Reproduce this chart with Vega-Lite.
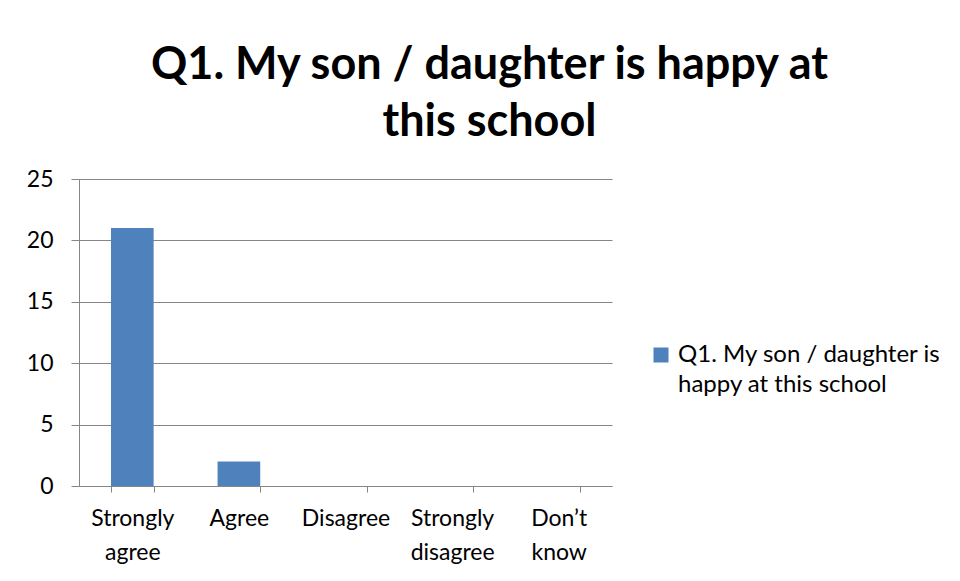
{
  "$schema": "https://vega.github.io/schema/vega-lite/v6.json",
  "autosize": {"type": "none"},
  "width": 533,
  "height": 307,
  "padding": {"left": 79, "top": 179, "right": 348, "bottom": 95},
  "background": "white",
  "config": {
    "view": {"stroke": null},
    "font": "Lato",
    "style": {"guide-label": {"lineHeight": 30}}
  },
  "title": {
    "text": ["Q1. My son / daughter is happy at", "this school"],
    "font": "Lato",
    "fontSize": 45,
    "fontWeight": "bold",
    "color": "#000000",
    "anchor": "middle",
    "frame": "group",
    "dx": 144,
    "lineHeight": 57,
    "offset": 23
  },
  "data": {
    "values": [
      {"response": "Strongly agree", "count": 21, "series": "Q1. My son / daughter is happy at this school"},
      {"response": "Agree", "count": 2, "series": "Q1. My son / daughter is happy at this school"},
      {"response": "Disagree", "count": 0, "series": "Q1. My son / daughter is happy at this school"},
      {"response": "Strongly disagree", "count": 0, "series": "Q1. My son / daughter is happy at this school"},
      {"response": "Don’t know", "count": 0, "series": "Q1. My son / daughter is happy at this school"}
    ]
  },
  "mark": {"type": "bar"},
  "encoding": {
    "x": {
      "field": "response",
      "type": "nominal",
      "sort": null,
      "scale": {"paddingInner": 0.6, "paddingOuter": 0.3},
      "axis": {
        "title": null,
        "labelAngle": 0,
        "labelExpr": "split(datum.label, ' ')",
        "labelFont": "Lato",
        "labelFontSize": 23,
        "labelColor": "#000000",
        "labelLineHeight": 34,
        "labelPadding": 15,
        "tickBand": "extent",
        "tickSize": 6,
        "tickColor": "#868686",
        "domainColor": "#868686",
        "labelLimit": 200
      }
    },
    "y": {
      "field": "count",
      "type": "quantitative",
      "scale": {"domain": [0, 25], "nice": false},
      "axis": {
        "title": null,
        "values": [0, 5, 10, 15, 20, 25],
        "labelFont": "Lato",
        "labelFontSize": 23,
        "labelColor": "#000000",
        "labelPadding": 18,
        "tickSize": 8,
        "tickColor": "#868686",
        "domainColor": "#868686",
        "gridColor": "#868686",
        "grid": true
      }
    },
    "color": {
      "field": "series",
      "type": "nominal",
      "scale": {"range": ["#4F81BD"]},
      "legend": {
        "title": null,
        "orient": "none",
        "legendX": 570,
        "legendY": 164,
        "symbolType": "square",
        "symbolSize": 225,
        "symbolStrokeWidth": 0,
        "labelFont": "Lato",
        "labelFontSize": 24,
        "labelColor": "#000000",
        "labelLimit": 400,
        "labelOffset": 5,
        "labelExpr": "['Q1. My son / daughter is', 'happy at this school']"
      }
    }
  }
}
